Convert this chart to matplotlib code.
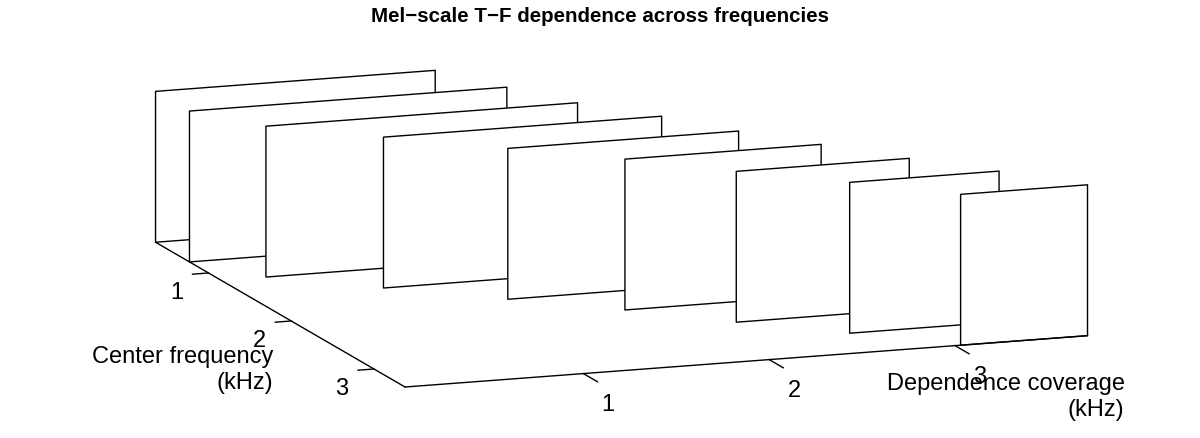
import matplotlib
matplotlib.use('Agg')
import matplotlib.pyplot as plt
import matplotlib.text as mtext
import numpy as np
from mpl_toolkits.mplot3d import proj3d
from mpl_toolkits.mplot3d.art3d import Poly3DCollection

plt.rcParams['font.family'] = ['Liberation Sans', 'DejaVu Sans']

# center frequency of each plane (kHz)
center_freq = [0.36, 0.77, 1.155, 1.52, 1.90, 2.26, 2.64, 3.00, 3.375]
# dependence coverage covered by each plane (kHz)
cover_start = [0.04, 0.04, 0.28, 0.75, 1.25, 1.72, 2.15, 2.60, 3.03]
cover_end = [1.545, 1.748, 1.957, 2.247, 2.492, 2.776, 3.081, 3.404, 3.713]
plane_height = 1.0
x_ticks = [1, 2, 3]
y_ticks = [1, 2, 3]

title = 'Mel\u2212scale T\u2212F dependence across frequencies'
xlabel = 'Dependence coverage\n(kHz)'
ylabel = 'Center frequency\n(kHz)'

x_lim = (min(cover_start), max(cover_end))
y_lim = (min(center_freq), max(center_freq))

W, H = 1200, 439
fs = 17
fig = plt.figure(figsize=(W / 100, H / 100), dpi=100)
ax = fig.add_axes([0, 0, 1, 1], projection='3d', proj_type='ortho',
                  computed_zorder=False)
ax.view_init(elev=12.06, azim=-109.8)
ax.set_box_aspect((726, 737, 154.4))
ax.set_xlim(*x_lim)
ax.set_ylim(y_lim[1], y_lim[0])   # center frequency grows toward viewer
ax.set_zlim(0, plane_height)
ax.set_xticks([])
ax.set_yticks([])
ax.set_zticks([])
ax.set_axis_off()


def proj2d(x, y, z):
    xs, ys, _ = proj3d.proj_transform(x, y, z, ax.get_proj())
    return xs, ys


def label(x, y, z, s, **kw):
    # 3d anchor point -> flat text in the axes' projected coordinates
    px, py = proj2d(x, y, z)
    ax.text2D(px, py, s, transform=ax.transData, fontsize=fs, zorder=4, **kw)


# the planes
verts = []
for yc, x0, x1 in zip(center_freq, cover_start, cover_end):
    verts.append([(x0, yc, 0), (x1, yc, 0),
                  (x1, yc, plane_height), (x0, yc, plane_height)])
planes = Poly3DCollection(verts, facecolor='white', edgecolor='black',
                          linewidth=1.0, zorder=1)
ax.add_collection3d(planes)

# axis lines + ticks
lw = 1.0
ax.plot([x_lim[0], x_lim[1]], [y_lim[1], y_lim[1]], [0, 0],
        color='black', lw=lw, zorder=3)
ax.plot([x_lim[0], x_lim[0]], [y_lim[0], y_lim[1]], [0, 0],
        color='black', lw=lw, zorder=3)
for t in x_ticks:
    ax.plot([t, t], [y_lim[1], y_lim[1] + 0.17], [0, 0],
            color='black', lw=lw, zorder=3)
    label(t - 0.128, y_lim[1] + 0.588, 0, str(t), ha='center', va='center')
for t in y_ticks:
    ax.plot([x_lim[0], x_lim[0] - 0.086], [t, t], [0, 0],
            color='black', lw=lw, zorder=3)
    label(x_lim[0] - 0.308, t + 0.306, 0, str(t), ha='center', va='center')

label(x_lim[0] - 0.481, 2.86, 0, ylabel,
      ha='right', va='center', multialignment='right')
label(3.393, y_lim[1] + 1.166, 0, xlabel,
      ha='right', va='center', multialignment='right')

fig.text(0.5, 1 - 17 / H, title, fontsize=14.8, fontweight='bold',
         ha='center', va='center')

# fit the floor into place: front-left, front-right, back-left corners
fig.canvas.draw()


def to_px(x, y, z):
    return ax.transData.transform(proj2d(x, y, z))


p_f = to_px(x_lim[0], y_lim[1], 0)
p_r = to_px(x_lim[1], y_lim[1], 0)
p_b = to_px(x_lim[0], y_lim[0], 0)
d_f = np.array([405, H - 388])
d_r = np.array([1088, H - 336])
d_b = np.array([156, H - 245])
cur = np.concatenate([p_r - p_f, p_b - p_f])
want = np.concatenate([d_r - d_f, d_b - d_f])
k = np.dot(cur, want) / np.dot(cur, cur)

bb = ax.bbox
c = np.array([bb.x0 + bb.width / 2, bb.y0 + bb.height / 2])
c_new = d_f - k * (p_f - c)
w_new, h_new = bb.width * k, bb.height * k
ax.set_position([(c_new[0] - w_new / 2) / W, (c_new[1] - h_new / 2) / H,
                 w_new / W, h_new / H])

# hide the empty built-in texts of the 3d axes
for t in fig.findobj(mtext.Text):
    if t.get_text() == '':
        t.set_visible(False)

fig.savefig('out.png', dpi=100)
